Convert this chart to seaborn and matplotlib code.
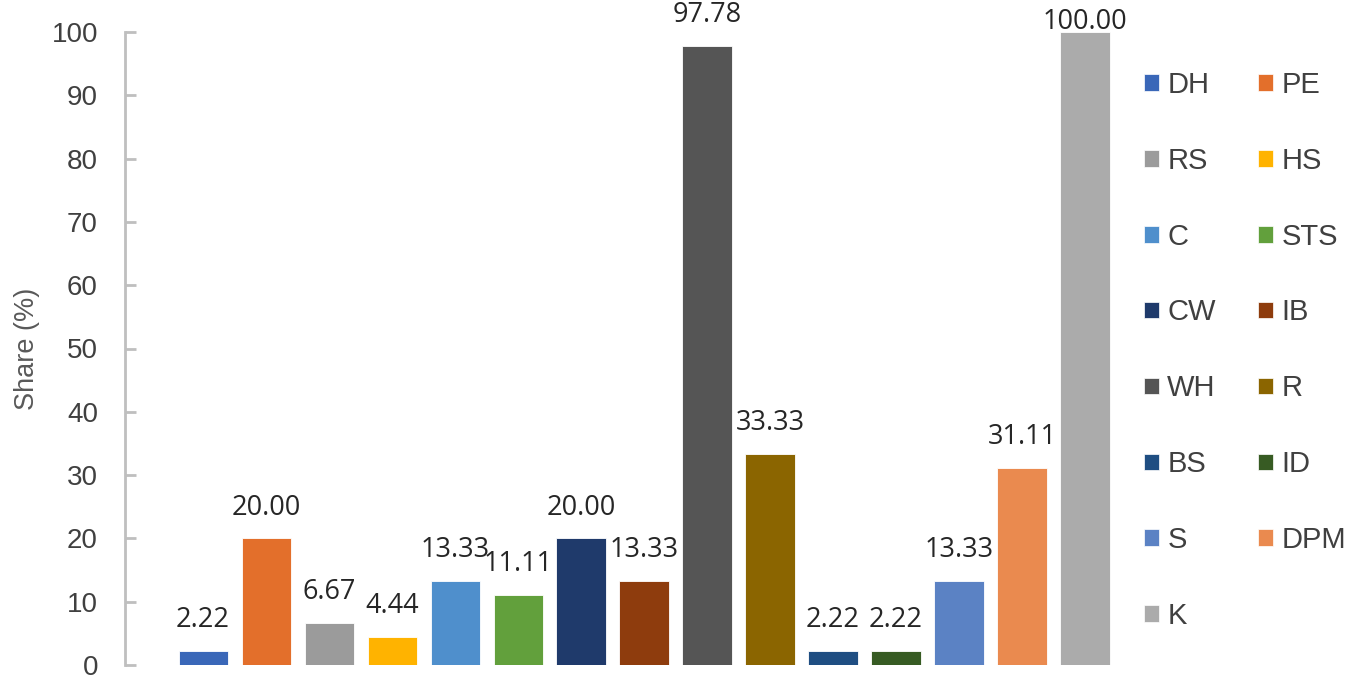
import matplotlib.pyplot as plt
import seaborn as sns
from matplotlib.patches import Patch

# ==== Data ====
categories = ['DH', 'PE', 'RS', 'HS', 'C', 'STS', 'CW', 'IB', 'WH', 'R',
              'BS', 'ID', 'S', 'DPM', 'K']
shares = [2.22, 20.00, 6.67, 4.44, 13.33, 11.11, 20.00, 13.33, 97.78, 33.33,
          2.22, 2.22, 13.33, 31.11, 100.00]
colors = ['#3A67B8', '#E36F2B', '#9B9B9B', '#FFB300', '#4F8FCC', '#62A03C',
          '#1F3A6B', '#8E3C0D', '#555555', '#8B6500', '#1F4E82', '#375B23',
          '#5B82C4', '#EA8A4F', '#ABABAB']
y_ticks = list(range(0, 101, 10))

# ==== Chart ====
sns.set_style('white')
plt.rcParams['font.family'] = ['Liberation Sans', 'DejaVu Sans']

fig = plt.figure(figsize=(13.55, 6.87), dpi=100)
ax = fig.add_axes([125 / 1355, 22 / 687, (1116.5 - 125) / 1355, 633 / 687])

sns.barplot(x=categories, y=shares, hue=categories, palette=colors,
            saturation=1, width=0.78, legend=False, ax=ax,
            edgecolor='white', linewidth=0.6)

ax.set_xlim(-1.24, 14.5)
ax.set_ylim(0, 100)
ax.set_yticks(y_ticks)
ax.set_xticks([])
ax.set_xlabel('')

for s in ['top', 'right', 'bottom']:
    ax.spines[s].set_visible(False)
ax.spines['left'].set_color('#BFBFBF')
ax.spines['left'].set_linewidth(2)
ax.tick_params(axis='y', left=True, direction='in', length=8, width=2,
               color='#BFBFBF', pad=19.5, labelsize=20, labelcolor='#404040')

ax.set_ylabel('Share (%)', fontsize=19.5, color='#595959')
ax.yaxis.set_label_coords(-0.086, 0.5)

# labels above bars; the top one is pulled down to stay inside the figure
for cont, v in zip(ax.containers, shares):
    pad = -3 if v >= 99.5 else 12
    ax.bar_label(cont, fmt='%.2f', padding=pad, fontsize=19.5,
                 family=['Open Sans', 'DejaVu Sans'], color='#262626')

handles = [Patch(facecolor=c, edgecolor='white', linewidth=0.5) for c in colors]
order = list(range(0, 15, 2)) + list(range(1, 15, 2))
leg = fig.legend([handles[i] for i in order], [categories[i] for i in order],
                 ncol=2, loc='upper left', bbox_to_anchor=(1144 / 1355, 1 - 71 / 687),
                 frameon=False, fontsize=21, handlelength=0.5, handleheight=0.5,
                 handletextpad=0.3, columnspacing=1.45, labelspacing=1.64,
                 borderpad=0, borderaxespad=0)
for t in leg.get_texts():
    t.set_color('#404040')

fig.savefig('out.png', dpi=100)
